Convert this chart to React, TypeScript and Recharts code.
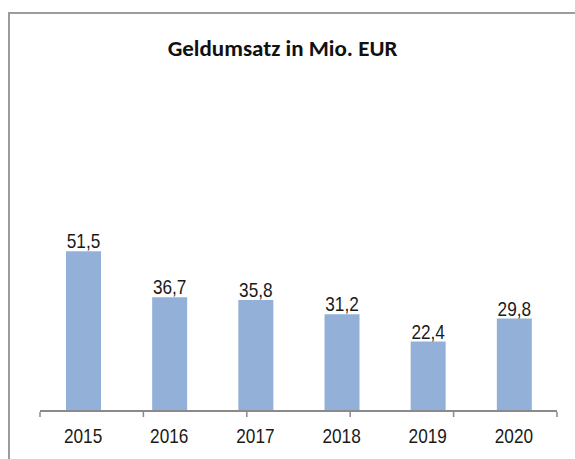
import React from 'react';
import { BarChart, Bar, XAxis, YAxis, LabelList } from 'recharts';

// Geldumsatz in Mio. EUR per year
const years = ['2015', '2016', '2017', '2018', '2019', '2020'];
const umsatz = [51.5, 36.7, 35.8, 31.2, 22.4, 29.8];
const boundaryTicks = [0, 1, 2, 3, 4, 5, 6];

const data = years.map((year, i) => ({ year, value: umsatz[i] }));

const fmt = (v: number) => v.toFixed(1).replace('.', ',');

// no Arial Narrow here, so squeeze Liberation Sans horizontally
const labelFont = "'Liberation Sans', Arial, sans-serif";
const squeeze = (x: number, y: number) => `translate(${x},${y}) scale(0.82,1) translate(${-x},${-y})`;

const YearTick = (props: any) => {
  const { x, y, payload } = props;
  return (
    <text x={x} y={y} dy="0.71em" textAnchor="middle" transform={squeeze(x, y)}
      fill="#1a1a1a" fontSize={21} fontFamily={labelFont}>
      {payload.value}
    </text>
  );
};

const ValueLabel = (props: any) => {
  const { x, y, width, value } = props;
  const cx = Number(x) + Number(width) / 2;
  const cy = Number(y) - 3;
  return (
    <text x={cx} y={cy} textAnchor="middle" transform={squeeze(cx, cy)}
      fill="#1a1a1a" fontSize={21} fontFamily={labelFont}>
      {fmt(Number(value))}
    </text>
  );
};

export default function App() {
  return (
    <div style={{ position: 'absolute', left: 0, top: 0, width: 575, height: 459, background: '#fff', overflow: 'hidden' }}>
      {/* chart frame, cut off on the right and at the bottom */}
      <div
        style={{
          position: 'absolute', left: 8, top: 12, width: 620, height: 500,
          border: '2px solid #9c9c9c', boxSizing: 'border-box',
        }}
      />
      <div
        style={{
          position: 'absolute', left: 5, width: 555, top: 34, textAlign: 'center',
          fontFamily: "Carlito, Lato, 'Open Sans', sans-serif", fontWeight: 700,
          fontSize: 23, color: '#111',
        }}
      >
        Geldumsatz in Mio. EUR
      </div>
      <div style={{ position: 'absolute', left: 0, top: 0 }}>
        <BarChart width={575} height={459} data={data} margin={{ top: 225, right: 18, bottom: 46, left: 40 }}>
          <YAxis hide domain={[0, 60]} />
          <XAxis
            dataKey="year"
            height={1}
            axisLine={{ stroke: '#8a8a8a', strokeWidth: 2 }}
            tickLine={false}
            tickSize={0}
            tickMargin={17}
            tick={<YearTick />}
            interval={0}
          />
          <XAxis
            xAxisId="bounds"
            type="number"
            domain={[0, 6]}
            ticks={boundaryTicks}
            height={1}
            axisLine={false}
            tickLine={{ stroke: '#8a8a8a', strokeWidth: 1.5 }}
            tickSize={5}
            tickFormatter={() => ''}
            allowDataOverflow
          />
          <Bar dataKey="value" fill="#93b1d8" barSize={35} isAnimationActive={false}>
            <LabelList dataKey="value" content={<ValueLabel />} />
          </Bar>
        </BarChart>
      </div>
    </div>
  );
}
